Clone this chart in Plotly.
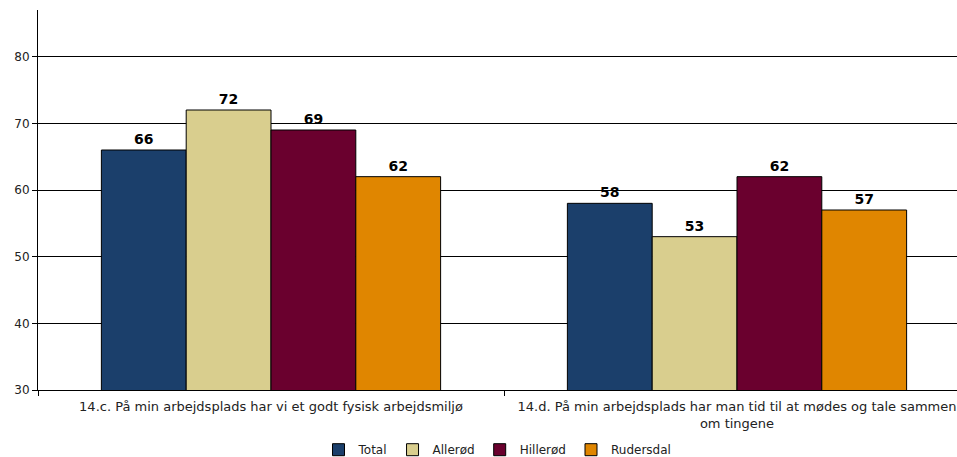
import plotly.graph_objects as go

categories = [
    "14.c. På min arbejdsplads har vi et godt fysisk arbejdsmiljø",
    "14.d. På min arbejdsplads har man tid til at mødes og tale sammen<br>om tingene",
]
series_names = ["Total", "Allerød", "Hillerød", "Rudersdal"]
total = [66, 58]
allerod = [72, 53]
hillerod = [69, 62]
rudersdal = [62, 57]
colors = ["#1B3F6B", "#D9CE8E", "#6A002E", "#E08600"]
y_ticks = [30, 40, 50, 60, 70, 80]

FONT = "DejaVu Sans, Verdana, sans-serif"

fig = go.Figure()
for name, vals, col in zip(series_names, [total, allerod, hillerod, rudersdal], colors):
    fig.add_trace(go.Bar(
        name=name,
        x=categories,
        y=vals,
        marker=dict(color=col, line=dict(color="#000000", width=1)),
        text=[str(v) for v in vals],
        textposition="outside",
        textfont=dict(family=FONT, size=14, color="#000000", weight="bold"),
        cliponaxis=False,
        hoverinfo="skip",
    ))

fig.update_layout(
    width=995,
    height=457,
    margin=dict(l=38, r=25, t=10, b=67, autoexpand=False),
    paper_bgcolor="#FFFFFF",
    plot_bgcolor="#FFFFFF",
    barmode="group",
    bargap=0.272,
    bargroupgap=0,
    font=dict(family=FONT, size=12, color="#000000"),
    showlegend=True,
    legend=dict(
        orientation="h",
        xref="container", x=0.5, xanchor="center",
        yref="container", y=0.016, yanchor="middle",
        font=dict(family=FONT, size=12, color="#222222"),
        itemwidth=30,
        tracegroupgap=0,
    ),
)
fig.update_xaxes(
    automargin=False,
    showline=True, linecolor="#000000", linewidth=1,
    ticks="outside", tickson="boundaries", ticklen=5, tickcolor="#000000",
    ticklabelstandoff=4,
    tickfont=dict(family=FONT, size=13, color="#222222"),
    showgrid=False,
)
fig.update_yaxes(
    automargin=False,
    range=[30, 87],
    tickvals=y_ticks,
    showline=True, linecolor="#000000", linewidth=1,
    ticks="outside", ticklen=5, tickcolor="#000000",
    tickfont=dict(family=FONT, size=12, color="#222222"),
    showgrid=True, gridcolor="#000000", gridwidth=1,
    zeroline=False,
)

fig.write_html("out.html")
